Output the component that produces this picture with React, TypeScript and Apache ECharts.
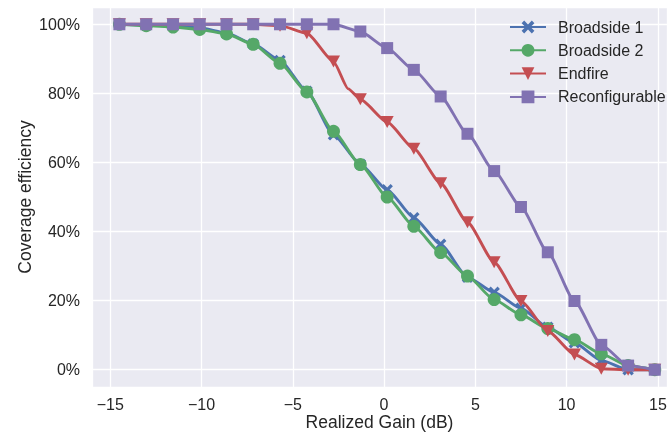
import React, { useEffect, useRef } from "react";
import * as echarts from "echarts";

const gainX = [-14.5, -13.03, -11.56, -10.1, -8.63, -7.17, -5.7, -4.23, -2.77, -1.3, 0.17, 1.63, 3.1, 4.57, 6.03, 7.5, 8.97, 10.43, 11.9, 13.37, 14.83];
const broadside1 = [100, 99.8, 99.5, 99.0, 97.5, 94.3, 89.5, 80.6, 68.0, 59.5, 52.1, 44.0, 36.3, 26.8, 22.4, 17.8, 12.3, 7.8, 2.7, 0, 0];
const broadside2 = [100, 99.6, 99.2, 98.5, 97.2, 94.2, 88.7, 80.4, 69.0, 59.4, 50.0, 41.5, 33.9, 27.1, 20.3, 15.9, 11.9, 8.7, 4.6, 1.2, 0];
const endfire = [100, 100, 100, 100, 100, 100, 99.6, 97.4, 89.2, 78.3, 71.7, 64.0, 54.0, 42.7, 31.1, 19.9, 11.2, 4.4, 0.3, 0, 0];
const reconfigurable = [100, 100, 100, 100, 100, 100, 100, 100, 100, 97.9, 93.1, 86.8, 79.1, 68.3, 57.5, 47.1, 34.0, 19.9, 7.2, 1.2, 0];
// extra line vertices without markers (kinks)
const endfireExtra: [number, number][] = [[-1.96, 81.3]];

const seriesNames = ["Broadside 1", "Broadside 2", "Endfire", "Reconfigurable"];
const seriesColors = ["#4C72B0", "#55A868", "#C44E52", "#8172B2"];
const xTicks = [-15, -10, -5, 0, 5, 10, 15];

const X_SYMBOL = "path://M2,0 L5,3 L8,0 L10,2 L7,5 L10,8 L8,10 L5,7 L2,10 L0,8 L3,5 L0,2 Z";
const TRI_DOWN = "path://M0,0 L10,0 L5,9 Z";

function buildData(vals: number[], extra: [number, number][] = []) {
  const pts: any[] = gainX.map((x, i) => ({ value: [x, vals[i]] }));
  extra.forEach(([x, y]) => pts.push({ value: [x, y], symbol: "none" }));
  pts.sort((a, b) => a.value[0] - b.value[0]);
  return pts;
}

const fmtMinus = (v: number) => (v < 0 ? "\u2212" + Math.abs(v) : String(v));

export default function App() {
  const ref = useRef<HTMLDivElement>(null);
  useEffect(() => {
    if (!ref.current) return;
    const chart = echarts.init(ref.current, undefined, { renderer: "svg" });
    const font = "'Liberation Sans', Arial, sans-serif";
    const txt = "#262626";
    const symbols = [X_SYMBOL, "circle", TRI_DOWN, "rect"];
    const sizes: any[] = [11.5, 13, [13, 12], 12];
    const datas = [
      buildData(broadside1),
      buildData(broadside2),
      buildData(endfire, endfireExtra),
      buildData(reconfigurable),
    ];
    chart.setOption({
      animation: false,
      textStyle: { fontFamily: font },
      grid: {
        left: 92,
        right: 3,
        top: 7,
        bottom: 52,
        show: true,
        backgroundColor: "#EAEAF2",
        borderWidth: 0,
      },
      legend: {
        orient: "vertical",
        left: 509,
        top: 19,
        padding: 0,
        itemWidth: 36,
        itemHeight: 16,
        itemGap: 7.3,
        data: seriesNames,
        textStyle: { fontSize: 16, lineHeight: 16, color: txt, fontFamily: font, padding: [0, 0, 0, 7] },
      },
      xAxis: {
        type: "value",
        min: -16,
        max: 15.5,
        minInterval: 5,
        maxInterval: 5,
        name: "Realized Gain (dB)",
        nameLocation: "middle",
        nameMoveOverlap: false,
        nameGap: 26,
        nameTextStyle: { fontSize: 17.5, color: txt, fontFamily: font, verticalAlign: "top" },
        axisLine: { show: false },
        axisTick: { show: false },
        axisLabel: {
          fontSize: 16,
          color: txt,
          margin: 9,
          showMinLabel: false,
          showMaxLabel: false,
          formatter: (v: number) => (xTicks.includes(v) ? fmtMinus(v) : ""),
        },
        splitLine: { show: true, lineStyle: { color: "#FFFFFF", width: 1.3 } },
      },
      yAxis: {
        type: "value",
        min: -5,
        max: 105,
        minInterval: 20,
        maxInterval: 20,
        name: "Coverage efficiency",
        nameLocation: "middle",
        nameMoveOverlap: false,
        nameGap: 58,
        nameTextStyle: { fontSize: 17.5, color: txt, fontFamily: font },
        axisLine: { show: false },
        axisTick: { show: false },
        axisLabel: {
          fontSize: 16,
          color: txt,
          margin: 12,
          showMinLabel: false,
          showMaxLabel: false,
          formatter: (v: number) => (v % 20 === 0 ? v + "%" : ""),
        },
        splitLine: { show: true, lineStyle: { color: "#FFFFFF", width: 1.3 } },
      },
      series: seriesNames.map((name, i) => ({
        name,
        type: "line",
        data: datas[i],
        symbol: symbols[i],
        symbolSize: sizes[i],
        showAllSymbol: true,
        smooth: 0.2,
        smoothMonotone: "x",
        lineStyle: { color: seriesColors[i], width: 2.9 },
        itemStyle: { color: seriesColors[i], borderWidth: 0 },
        color: seriesColors[i],
        z: 2 + i,
      })),
    });
    return () => chart.dispose();
  }, []);
  return (
    <div
      ref={ref}
      style={{ position: "fixed", left: 0, top: 0, width: 670, height: 439 }}
    />
  );
}
